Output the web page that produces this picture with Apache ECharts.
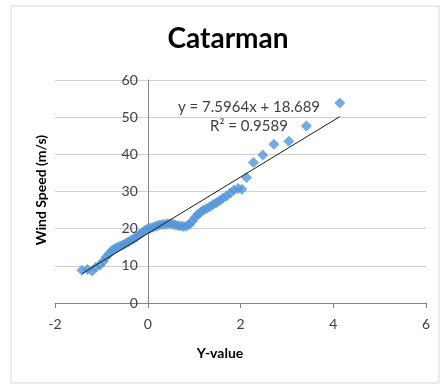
<!DOCTYPE html>
<html>
<head>
<meta charset="utf-8">
<script src="https://cdn.jsdelivr.net/npm/echarts@6/dist/echarts.min.js"></script>
<style>
  html, body { margin: 0; padding: 0; background: #fff; }
  #chart { width: 440px; height: 385px; }
</style>
</head>
<body>
<div id="chart"></div>
<script>
// Standardised variate (x) against observed wind speed (y), Catarman station
const yValues = [-1.42, -1.30, -1.20, -1.12, -1.03, -0.96, -0.90, -0.84, -0.78, -0.72,
  -0.66, -0.60, -0.54, -0.48, -0.42, -0.36, -0.30, -0.24, -0.18, -0.12,
  -0.06, 0.00, 0.06, 0.12, 0.18, 0.24, 0.30, 0.36, 0.42, 0.48,
  0.54, 0.60, 0.66, 0.72, 0.78, 0.84, 0.90, 0.96, 1.02, 1.08,
  1.14, 1.20, 1.27, 1.34, 1.41, 1.48, 1.55, 1.62, 1.70, 1.78,
  1.86, 1.95, 2.03, 2.13, 2.28, 2.48, 2.72, 3.04, 3.42, 4.14];
const windSpeed = [8.8, 9.0, 8.6, 9.6, 10.2, 11.2, 12.3, 13.2, 14.0, 14.6,
  15.0, 15.3, 15.6, 16.0, 16.4, 16.9, 17.3, 17.8, 18.4, 19.0,
  19.6, 20.0, 20.2, 20.4, 20.7, 21.0, 21.1, 21.2, 21.3, 21.3,
  21.2, 21.0, 20.8, 20.7, 20.6, 20.7, 21.2, 22.0, 23.0, 23.8,
  24.4, 25.0, 25.4, 25.9, 26.5, 27.0, 27.6, 28.2, 28.8, 29.6,
  30.4, 30.8, 30.6, 33.8, 37.8, 39.8, 42.7, 43.5, 47.6, 53.8];

// Linear trendline coefficients
const slope = 7.5964;
const intercept = 18.689;
const rSquared = 0.9589;

const xTicks = [-2, 0, 2, 4, 6];
const yTicks = [0, 10, 20, 30, 40, 50, 60];

const points = yValues.map((x, i) => [x, windSpeed[i]]);
const xMin = Math.min(...yValues), xMax = Math.max(...yValues);
const trend = [[xMin, slope * xMin + intercept], [xMax, slope * xMax + intercept]];

const FONT = 'Lato, "Liberation Sans", sans-serif';
const GRID = { left: 55, right: 14, top: 80, bottom: 82 };
const chartWidth = 440;
const xLo = xTicks[0], xHi = xTicks[xTicks.length - 1];
// shift the vertical axis (line and labels) so it crosses the x axis at 0
const plotWidth = chartWidth - GRID.left - GRID.right;
const yAxisShift = plotWidth * (0 - xLo) / (xHi - xLo);

const chart = echarts.init(document.getElementById('chart'), null, { renderer: 'canvas' });

chart.setOption({
  animation: false,
  backgroundColor: '#fff',
  grid: Object.assign({ containLabel: false }, GRID),
  xAxis: {
    type: 'value',
    min: xLo, max: xHi, interval: 2,
    axisLine: { onZero: false, lineStyle: { color: '#868686', width: 1 } },
    axisTick: { show: true, length: 5, lineStyle: { color: '#868686' } },
    axisLabel: { margin: 14, fontFamily: FONT, fontSize: 14, color: '#404040' },
    splitLine: { show: false }
  },
  yAxis: {
    type: 'value',
    min: yTicks[0], max: yTicks[yTicks.length - 1], interval: 10,
    offset: -yAxisShift,
    axisLine: { show: true, onZero: false, lineStyle: { color: '#868686', width: 1 } },
    axisTick: { show: false },
    axisLabel: { margin: 10, fontFamily: FONT, fontSize: 14, color: '#404040' },
    splitLine: { show: true, lineStyle: { color: '#d0d0d0', width: 1 } }
  },
  series: [
    {
      type: 'scatter',
      data: points,
      symbol: 'diamond',
      symbolSize: 11,
      itemStyle: { color: '#5496d8' },
      z: 2
    },
    {
      type: 'line',
      data: trend,
      symbol: 'none',
      lineStyle: { color: '#1a1a1a', width: 1 },
      z: 3
    }
  ],
  graphic: [
    {
      type: 'rect',
      shape: { x: 11, y: 6, width: 428, height: 377 },
      style: { fill: 'none', stroke: '#d9d9d9', lineWidth: 1 },
      silent: true, z: -1
    },
    {
      type: 'text',
      x: 228, y: 39,
      style: {
        text: 'Catarman',
        font: 'bold 28px ' + FONT, fill: '#000',
        align: 'center', verticalAlign: 'middle'
      }
    },
    {
      type: 'text',
      left: 178, top: 100,
      style: {
        text: 'y = ' + slope + 'x + ' + intercept,
        font: '15px ' + FONT, fill: '#404040'
      }
    },
    {
      type: 'text',
      left: 210, top: 119,
      style: {
        text: 'R² = ' + rSquared,
        font: '15px ' + FONT, fill: '#404040'
      }
    },
    {
      type: 'text',
      left: 'center', top: 346,
      style: { text: 'Y-value', font: 'bold 14px ' + FONT, fill: '#000' }
    },
    {
      type: 'text',
      x: 41, y: 190,
      rotation: Math.PI / 2,
      style: {
        text: 'Wind Speed (m/s)',
        font: 'bold 14px ' + FONT, fill: '#000',
        align: 'center', verticalAlign: 'middle'
      }
    }
  ]
});
</script>
</body>
</html>
